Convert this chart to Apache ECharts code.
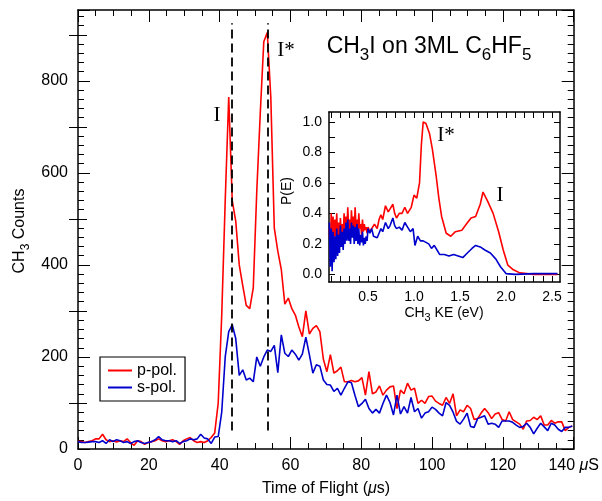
<!DOCTYPE html>
<html>
<head>
<meta charset="utf-8">
<script src="https://cdn.jsdelivr.net/npm/echarts@6/dist/echarts.min.js"></script>
<style>
  html, body { margin: 0; padding: 0; background: #fff; }
  #chart { width: 602px; height: 501px; }
</style>
</head>
<body>
<div id="chart"></div>
<script>
// time of flight samples (us)
const tof = [
  0, 0.99, 1.98, 2.97, 3.96, 4.95, 5.94, 6.93, 7.92, 8.91, 9.9, 10.89, 11.88, 12.87, 13.86, 14.85, 15.84, 16.83, 17.82, 18.81,
  19.8, 20.79, 21.78, 22.77, 23.76, 24.75, 25.74, 26.73, 27.72, 28.71, 29.7, 30.69, 31.68, 32.67, 33.66, 34.65, 35.64, 36.63, 37.62, 38.61,
  39.6, 40.59, 41.58, 42.57, 43.56, 44.55, 45.54, 46.53, 47.52, 48.51, 49.5, 50.49, 51.48, 52.47, 53.46, 54.45, 55.44, 56.43, 57.42, 58.41,
  59.4, 60.39, 61.38, 62.37, 63.36, 64.35, 65.34, 66.33, 67.32, 68.31, 69.3, 70.29, 71.28, 72.27, 73.26, 74.25, 75.24, 76.23, 77.22, 78.21,
  79.2, 80.19, 81.18, 82.17, 83.16, 84.15, 85.14, 86.13, 87.12, 88.11, 89.1, 90.09, 91.08, 92.07, 93.06, 94.05, 95.04, 96.03, 97.02, 98.01,
  99, 99.99, 100.98, 101.97, 102.96, 103.95, 104.94, 105.93, 106.92, 107.91, 108.9, 109.89, 110.88, 111.87, 112.86, 113.85, 114.84, 115.83, 116.82, 117.81,
  118.8, 119.79, 120.78, 121.77, 122.76, 123.75, 124.74, 125.73, 126.72, 127.71, 128.7, 129.69, 130.68, 131.67, 132.66, 133.65, 134.64, 135.63, 136.62, 137.61,
  138.6, 139.59
]
// CH3 counts, p-polarised
const pPol = [
  17, 16, 14, 16, 18, 22, 22, 32, 20, 16, 18, 15, 18, 16, 22, 14, 8, 18, 16, 10,
  14, 16, 18, 22, 18, 16, 18, 20, 16, 10, 18, 22, 25, 18, 14, 16, 14, 18, 25, 35,
  100, 290, 540, 765, 540, 495, 400, 355, 312, 305, 350, 560, 730, 885, 905, 765, 480, 430, 390, 315,
  328, 305, 291, 265, 244, 300, 250, 262, 268, 255, 195, 168, 205, 165, 170, 178, 146, 146, 149, 146,
  148, 155, 117, 168, 120, 124, 137, 117, 128, 135, 137, 88, 128, 120, 143, 128, 132, 99, 106, 99,
  114, 115, 104, 99, 95, 112, 99, 120, 72, 85, 81, 95, 88, 64, 66, 78, 88, 79, 66, 76,
  79, 64, 61, 81, 64, 59, 54, 43, 61, 62, 69, 64, 72, 52, 52, 62, 56, 59, 59, 40,
  47, 50
]
// CH3 counts, s-polarised
const sPol = [
  16, 14, 14, 15, 16, 16, 14, 18, 12, 20, 16, 20, 18, 14, 16, 12, 16, 18, 14, 12,
  14, 16, 20, 27, 20, 18, 18, 16, 18, 12, 16, 18, 22, 20, 22, 32, 24, 22, 12, 26,
  27, 80, 200, 255, 270, 240, 160, 172, 150, 154, 146, 200, 180, 200, 215, 212, 225, 166, 248, 208,
  201, 215, 206, 193, 206, 243, 205, 165, 183, 180, 150, 140, 139, 125, 132, 117, 132, 146, 144, 117,
  92, 99, 108, 88, 78, 86, 78, 99, 117, 101, 74, 117, 76, 92, 78, 112, 81, 88, 67, 78,
  81, 91, 86, 78, 72, 101, 95, 80, 60, 54, 65, 78, 49, 47, 66, 69, 72, 54, 56, 54,
  47, 61, 61, 61, 58, 52, 47, 49, 56, 47, 33, 45, 56, 48, 40, 56, 52, 43, 38, 47,
  47, 50
]
// marked peak positions (us)
const peakLines = [43.3, 53.6]

// inset: P(E) vs CH3 KE (eV)
const keRed = [
  0.08, 0.09, 0.10, 0.11, 0.12, 0.13, 0.14, 0.15, 0.16, 0.17, 0.18, 0.19, 0.20, 0.21, 0.22, 0.23, 0.24, 0.25, 0.26, 0.27,
  0.28, 0.29, 0.30, 0.31, 0.32, 0.33, 0.34, 0.35, 0.36, 0.37, 0.38, 0.39, 0.40, 0.41, 0.42, 0.43, 0.44, 0.45, 0.46, 0.47,
  0.48, 0.49, 0.50, 0.52, 0.55, 0.57, 0.60, 0.62, 0.64, 0.66, 0.69, 0.72, 0.74, 0.77, 0.79, 0.81, 0.84, 0.87, 0.90, 0.93,
  0.97, 1.00, 1.03, 1.06, 1.08, 1.10, 1.13, 1.17, 1.20, 1.24, 1.27, 1.30, 1.35, 1.40, 1.45, 1.52, 1.57, 1.62, 1.67, 1.72,
  1.75, 1.80, 1.86, 1.92, 1.97, 2.02, 2.08, 2.15, 2.30, 2.56
]
const peRed = [
  0.30, 0.14, 0.40, 0.22, 0.38, 0.20, 0.36, 0.25, 0.40, 0.24, 0.34, 0.22, 0.37, 0.26, 0.33, 0.24, 0.40, 0.27, 0.38, 0.28,
  0.44, 0.30, 0.36, 0.27, 0.42, 0.30, 0.38, 0.28, 0.44, 0.31, 0.36, 0.27, 0.40, 0.30, 0.33, 0.26, 0.36, 0.28, 0.33, 0.29,
  0.31, 0.27, 0.31, 0.28, 0.31, 0.33, 0.30, 0.36, 0.39, 0.36, 0.45, 0.41, 0.43, 0.46, 0.40, 0.37, 0.40, 0.40, 0.44, 0.40,
  0.44, 0.52, 0.50, 0.60, 0.85, 1.00, 0.99, 0.92, 0.82, 0.65, 0.50, 0.38, 0.27, 0.25, 0.28, 0.29, 0.33, 0.37, 0.38, 0.46,
  0.54, 0.48, 0.40, 0.28, 0.16, 0.06, 0.03, 0.01, 0.00, 0.00
]
const keBlue = [
  0.08, 0.09, 0.10, 0.11, 0.12, 0.13, 0.14, 0.15, 0.16, 0.17, 0.18, 0.19, 0.20, 0.21, 0.22, 0.23, 0.24, 0.25, 0.26, 0.27,
  0.28, 0.29, 0.30, 0.31, 0.32, 0.33, 0.34, 0.35, 0.36, 0.37, 0.38, 0.39, 0.40, 0.41, 0.42, 0.43, 0.44, 0.45, 0.46, 0.47,
  0.48, 0.49, 0.50, 0.52, 0.54, 0.56, 0.58, 0.60, 0.62, 0.64, 0.66, 0.69, 0.72, 0.74, 0.77, 0.79, 0.81, 0.84, 0.87, 0.90,
  0.93, 0.96, 0.99, 1.01, 1.04, 1.07, 1.10, 1.13, 1.16, 1.19, 1.22, 1.25, 1.28, 1.33, 1.38, 1.43, 1.48, 1.53, 1.58, 1.63,
  1.67, 1.72, 1.77, 1.83, 1.89, 1.94, 2.00, 2.10, 2.30, 2.56
]
const peBlue = [
  0.34, 0.05, 0.30, 0.02, 0.28, 0.08, 0.25, 0.10, 0.30, 0.12, 0.26, 0.14, 0.32, 0.18, 0.28, 0.16, 0.30, 0.20, 0.34, 0.22,
  0.36, 0.22, 0.30, 0.20, 0.34, 0.24, 0.32, 0.20, 0.31, 0.22, 0.33, 0.20, 0.30, 0.19, 0.26, 0.21, 0.28, 0.19, 0.24, 0.20,
  0.25, 0.22, 0.30, 0.27, 0.30, 0.25, 0.26, 0.24, 0.27, 0.30, 0.28, 0.34, 0.30, 0.32, 0.37, 0.32, 0.30, 0.31, 0.29, 0.34,
  0.31, 0.28, 0.30, 0.19, 0.25, 0.22, 0.22, 0.21, 0.20, 0.17, 0.19, 0.16, 0.13, 0.13, 0.12, 0.13, 0.12, 0.11, 0.14, 0.17,
  0.19, 0.18, 0.16, 0.14, 0.10, 0.05, 0.005, 0.0, 0.005, 0.005
]
// inset tick positions and labels
const keTicks = [0.1, 0.2, 0.3, 0.4, 0.5, 0.6, 0.7, 0.8, 0.9, 1.0, 1.1, 1.2, 1.3, 1.4, 1.5, 1.6, 1.7, 1.8, 1.9, 2.0, 2.1, 2.2, 2.3, 2.4, 2.5]
const keLabels = [0.5, 1.0, 1.5, 2.0, 2.5]
const peTicks = [0, 0.1, 0.2, 0.3, 0.4, 0.5, 0.6, 0.7, 0.8, 0.9, 1.0]
const peLabels = [0, 0.2, 0.4, 0.6, 0.8, 1.0]
const countMidTicks = [100, 300, 500, 700, 900]

const SANS = '"Liberation Sans", Arial, Helvetica, sans-serif'
const SERIF = '"Liberation Serif", "Times New Roman", serif'
const RED = '#ff0000'
const BLUE = '#0000cc'
const black = { color: '#000', width: 1.5 }
const thin = { color: '#000', width: 1 }

const chart = echarts.init(document.getElementById('chart'))

function mainX(pos, labels) {
  return {
    gridIndex: 0, type: 'value', position: pos, min: 0, max: 140, interval: 20,
    axisLine: { show: true, onZero: false, lineStyle: black },
    axisTick: { inside: true, length: 12, lineStyle: thin },
    minorTick: { show: true, splitNumber: 4, length: 6, lineStyle: thin },
    splitLine: { show: false },
    axisLabel: {
      show: labels, color: '#000', fontFamily: SANS, fontSize: 16, margin: 9,
      formatter: v => (v === 140 ? '140 {u|\u03bc}S' : String(v)),
      rich: { u: { fontStyle: 'italic', fontFamily: SANS, fontSize: 16, color: '#000' } }
    }
  }
}
function mainY(pos, labels) {
  return {
    gridIndex: 0, type: 'value', position: pos, min: 0, max: 954, interval: 200,
    axisLine: { show: true, onZero: false, lineStyle: black },
    axisTick: { inside: true, length: 12, lineStyle: thin },
    minorTick: { show: true, splitNumber: 10, length: 6, lineStyle: thin },
    splitLine: { show: false },
    axisLabel: { show: labels, showMaxLabel: false, color: '#000', fontFamily: SANS, fontSize: 16, margin: 10 }
  }
}
function mainYMid(pos) {
  return {
    gridIndex: 0, type: 'value', position: pos, min: 0, max: 954,
    axisLine: { show: false }, splitLine: { show: false }, axisLabel: { show: false },
    axisTick: { show: true, inside: true, length: 9, lineStyle: thin, customValues: countMidTicks }
  }
}
function insetX(pos, labels) {
  return {
    gridIndex: 1, type: 'value', position: pos, min: 0.076, max: 2.587, z: 11,
    axisLine: { show: true, onZero: false, lineStyle: black },
    axisTick: { inside: true, length: 6, lineStyle: thin, customValues: keTicks },
    splitLine: { show: false },
    axisLabel: {
      show: labels, customValues: keLabels, color: '#000', fontFamily: SANS, fontSize: 14, margin: 8,
      formatter: v => v.toFixed(1)
    }
  }
}
function insetY(pos, labels) {
  return {
    gridIndex: 1, type: 'value', position: pos, min: -0.05, max: 1.065, z: 11,
    axisLine: { show: true, onZero: false, lineStyle: black },
    axisTick: { inside: true, length: 6, lineStyle: thin, customValues: peTicks },
    splitLine: { show: false },
    axisLabel: {
      show: labels, customValues: peLabels, color: '#000', fontFamily: SANS, fontSize: 14, margin: 7,
      formatter: v => v.toFixed(1)
    }
  }
}

function sub(size, drop) {
  return { fontFamily: SANS, fontSize: size, lineHeight: size, padding: [drop, 0, 0, 0], verticalAlign: 'middle', fill: '#000', color: '#000' }
}
function norm(size, lh) {
  return { fontFamily: SANS, fontSize: size, lineHeight: lh, verticalAlign: 'middle', fill: '#000', color: '#000' }
}
function label(x, y, text, size, rich, rot) {
  return {
    type: 'text', x: x, y: y, rotation: rot || 0, z: 20,
    style: { text: text, fontFamily: SANS, fontSize: size, fill: '#000', align: 'center', verticalAlign: 'middle', rich: rich }
  }
}
function roman(x, y, text) {
  return {
    type: 'text', x: x, y: y, z: 20,
    style: { text: text, fontFamily: SERIF, fontSize: 21, fill: '#000', align: 'center', verticalAlign: 'middle' }
  }
}

const option = {
  animation: false,
  backgroundColor: '#fff',
  grid: [
    { left: 78, top: 10, width: 497, height: 439 },
    { left: 329, top: 112, width: 231, height: 170, show: true, backgroundColor: '#fff', borderWidth: 0, z: 10 }
  ],
  xAxis: [mainX('bottom', true), mainX('top', false), insetX('bottom', true), insetX('top', false)],
  yAxis: [mainY('left', true), mainY('right', false), mainYMid('left'), mainYMid('right'),
          insetY('left', true), insetY('right', false)],
  legend: {
    data: ['p-pol.', 's-pol.'],
    orient: 'vertical', left: 100, top: 357,
    icon: 'rect',
    padding: [5, 8, 5, 8], itemGap: 0, itemWidth: 24, itemHeight: 2,
    borderColor: '#000', borderWidth: 1.2, borderRadius: 0, backgroundColor: '#fff',
    textStyle: { fontFamily: SANS, fontSize: 16, lineHeight: 17, color: '#000' }
  },
  graphic: {
    elements: [
      label(429, 47, '{n|CH}{s|3}{n|I on 3ML C}{s|6}{n|HF}{s|5}', 23, { n: norm(23, 26), s: sub(17, 16) }),
      label(326, 489, '{n|Time of Flight (}{i|\u03bc}{n|s)}', 16,
        { n: norm(16, 20), i: Object.assign(norm(16, 20), { fontStyle: 'italic' }) }),
      label(20, 231, '{n|CH}{s|3}{n| Counts}', 16, { n: norm(16, 20), s: sub(12, 11) }, Math.PI / 2),
      label(444, 313, '{n|CH}{s|3}{n| KE (eV)}', 14, { n: norm(14, 18), s: sub(11, 9) }),
      label(287, 191, 'P(E)', 14, null, Math.PI / 2),
      roman(286, 50, 'I*'),
      roman(217, 115, 'I'),
      roman(446, 135, 'I*'),
      roman(500, 195, 'I')
    ]
  },
  series: [
    {
      name: 'p-pol.', type: 'line', xAxisIndex: 0, yAxisIndex: 0,
      data: tof.map((t, i) => [t, pPol[i]]),
      symbol: 'none', color: RED, lineStyle: { color: RED, width: 1.6 }, z: 3,
      markLine: {
        silent: true, symbol: ['none', 'none'], label: { show: false },
        lineStyle: { color: '#000', width: 1.8, type: [9, 5] },
        data: peakLines.map(t => [{ coord: [t, 40] }, { coord: [t, 925] }])
      }
    },
    {
      name: 's-pol.', type: 'line', xAxisIndex: 0, yAxisIndex: 0,
      data: tof.map((t, i) => [t, sPol[i]]),
      symbol: 'none', color: BLUE, lineStyle: { color: BLUE, width: 1.6 }, z: 4
    },
    {
      name: 'p-pol.', type: 'line', xAxisIndex: 2, yAxisIndex: 4,
      data: keRed.map((e, i) => [e, peRed[i]]),
      symbol: 'none', color: RED, lineStyle: { color: RED, width: 1.6 }, z: 12
    },
    {
      name: 's-pol.', type: 'line', xAxisIndex: 2, yAxisIndex: 4,
      data: keBlue.map((e, i) => [e, peBlue[i]]),
      symbol: 'none', color: BLUE, lineStyle: { color: BLUE, width: 1.6 }, z: 13
    }
  ]
}

chart.setOption(option)
</script>
</body>
</html>
